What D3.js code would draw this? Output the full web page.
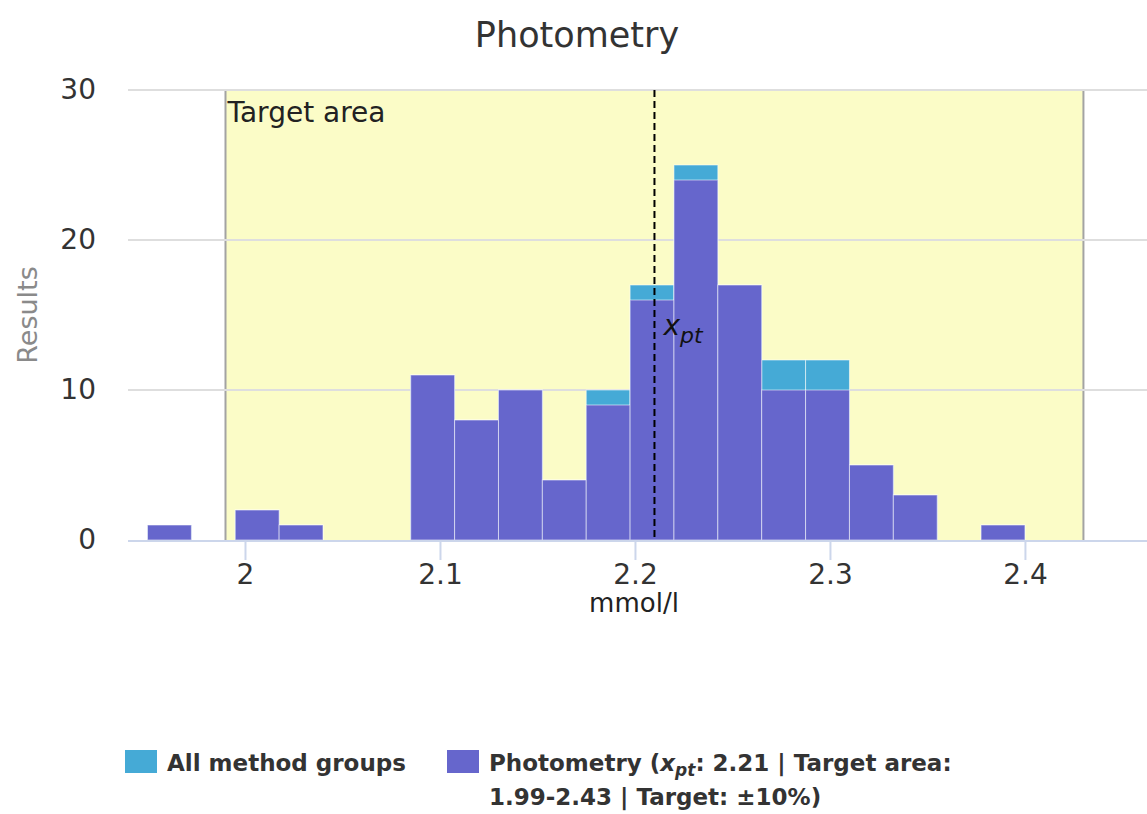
<!DOCTYPE html>
<html>
<head>
<meta charset="utf-8">
<script src="https://cdn.jsdelivr.net/npm/d3@7"></script>
<style>
  body { margin: 0; background: #fff; }
  svg { display: block; font-family: "DejaVu Sans", sans-serif; }
</style>
</head>
<body>
<svg id="chart" width="1147" height="814"></svg>
<script>
// Histogram bins (lower edge of each bin, mmol/l) and their common width
const binStarts = [1.95, 1.9725, 1.995, 2.0175, 2.04, 2.0625, 2.085, 2.1075, 2.13, 2.1525,
                   2.175, 2.1975, 2.22, 2.2425, 2.265, 2.2875, 2.31, 2.3325, 2.355, 2.3775];
const binWidth = 0.0225;

// Result counts per bin
const allGroupCounts   = [1, 0, 2, 1, 0, 0, 11, 8, 10, 4, 10, 17, 25, 17, 12, 12, 5, 3, 0, 1];
const photometryCounts = [1, 0, 2, 1, 0, 0, 11, 8, 10, 4, 9, 16, 24, 17, 10, 10, 5, 3, 0, 1];

const xTicks = [2, 2.1, 2.2, 2.3, 2.4];
const yTicks = [0, 10, 20, 30];
const xpt = 2.21;
const targetArea = [1.99, 2.43];
const seriesNames = ["All method groups", "Photometry"];
const seriesColors = ["#45aad6", "#6666cc"];

const svg = d3.select("#chart");
const plot = { left: 128, right: 1147, top: 90, bottom: 540 };

const x = d3.scaleLinear().domain([1.94, 2.4626]).range([plot.left, plot.right]);
const y = d3.scaleLinear().domain([0, 30]).range([plot.bottom, plot.top]);

// Title
svg.append("text")
  .attr("x", 577).attr("y", 47)
  .attr("text-anchor", "middle")
  .attr("font-size", 35).attr("fill", "#333")
  .text("Photometry");

// Target area band
svg.append("rect")
  .attr("x", x(targetArea[0])).attr("y", plot.top)
  .attr("width", x(targetArea[1]) - x(targetArea[0]))
  .attr("height", plot.bottom - plot.top)
  .attr("fill", "#fbfcc7");
targetArea.forEach(v => {
  svg.append("line")
    .attr("x1", x(v)).attr("x2", x(v))
    .attr("y1", plot.top).attr("y2", plot.bottom)
    .attr("stroke", "#a3a3a3").attr("stroke-width", 2);
});

// Horizontal grid lines
svg.append("g")
  .selectAll("line")
  .data(yTicks.filter(d => d > 0))
  .join("line")
  .attr("x1", plot.left).attr("x2", plot.right)
  .attr("y1", d => y(d)).attr("y2", d => y(d))
  .attr("stroke", "#dedede").attr("stroke-width", 2);

svg.append("text")
  .attr("x", x(targetArea[0]) + 2).attr("y", 122)
  .attr("font-size", 28).attr("fill", "#222")
  .text("Target area");

// Bars: all method groups behind, photometry in front
const series = [allGroupCounts, photometryCounts];
series.forEach((counts, i) => {
  svg.append("g")
    .selectAll("rect")
    .data(binStarts.map((s, j) => ({ s, v: counts[j] })).filter(d => d.v > 0))
    .join("rect")
    .attr("x", d => x(d.s))
    .attr("width", d => x(d.s + binWidth) - x(d.s))
    .attr("y", d => y(d.v))
    .attr("height", d => y(0) - y(d.v))
    .attr("fill", seriesColors[i])
    .attr("stroke", "rgba(255,255,255,0.55)")
    .attr("stroke-width", 1);
});

// x axis line and ticks
svg.append("line")
  .attr("x1", plot.left).attr("x2", plot.right)
  .attr("y1", plot.bottom + 1).attr("y2", plot.bottom + 1)
  .attr("stroke", "#ccd6eb").attr("stroke-width", 2);

const xAxis = d3.axisBottom(x).tickValues(xTicks).tickSize(19).tickPadding(4)
  .tickFormat(d3.format("~g"));
const gx = svg.append("g").attr("transform", `translate(0,${plot.bottom + 1})`).call(xAxis);
gx.select(".domain").remove();
gx.selectAll(".tick line").attr("stroke", "#ccd6eb").attr("stroke-width", 2);
gx.selectAll(".tick text").attr("font-size", 28).attr("fill", "#333")
  .attr("font-family", "DejaVu Sans, sans-serif");

const yAxis = d3.axisLeft(y).tickValues(yTicks).tickSize(0).tickPadding(32);
const gy = svg.append("g").attr("transform", `translate(${plot.left},0)`).call(yAxis);
gy.select(".domain").remove();
gy.selectAll(".tick text").attr("font-size", 28).attr("fill", "#333")
  .attr("font-family", "DejaVu Sans, sans-serif");

// Axis titles
svg.append("text")
  .attr("x", 634).attr("y", 612)
  .attr("text-anchor", "middle")
  .attr("font-size", 26).attr("fill", "#222")
  .text("mmol/l");

svg.append("text")
  .attr("transform", "translate(37,315) rotate(-90)")
  .attr("text-anchor", "middle")
  .attr("font-size", 27).attr("fill", "#8a8a8a")
  .text("Results");

// Assigned value marker
svg.append("line")
  .attr("x1", x(xpt)).attr("x2", x(xpt))
  .attr("y1", plot.top).attr("y2", plot.bottom)
  .attr("stroke", "#000").attr("stroke-width", 2)
  .attr("stroke-dasharray", "7,4");

const xptLabel = svg.append("text")
  .attr("x", x(xpt) + 9).attr("y", 335)
  .attr("fill", "#111").attr("font-style", "italic");
xptLabel.append("tspan").attr("font-size", 28).text("x");
xptLabel.append("tspan").attr("font-size", 22).attr("dy", 8).text("pt");

// Legend
const legend = svg.append("g").attr("font-weight", "bold").attr("fill", "#333").attr("font-size", 23);
const legendX = [125, 447];
legendX.forEach((lx, i) => {
  legend.append("rect")
    .attr("x", lx).attr("y", 750)
    .attr("width", 32).attr("height", 23)
    .attr("fill", seriesColors[i]);
});
legend.append("text").attr("x", 167).attr("y", 771).text(seriesNames[0]);

const l2 = legend.append("text").attr("x", 489).attr("y", 771);
l2.append("tspan").text(seriesNames[1] + " (");
l2.append("tspan").attr("font-style", "italic").text("x");
l2.append("tspan").attr("font-style", "italic").attr("font-size", 17).attr("dy", 5).text("pt");
l2.append("tspan").attr("dy", -5).text(`: ${xpt} | Target area:`);
legend.append("text").attr("x", 489).attr("y", 805)
  .text(`${targetArea[0]}-${targetArea[1]} | Target: ±10%)`);
</script>
</body>
</html>
